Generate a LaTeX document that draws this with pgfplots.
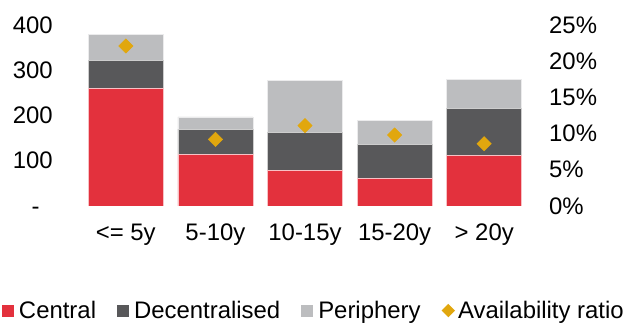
\documentclass[border=0pt]{standalone}
\usepackage{fontspec}
\setmainfont{Liberation Sans}
\usepackage{pgfplots}
\pgfplotsset{compat=1.18}
\usepackage{pgfplotstable}
\definecolor{cRed}{HTML}{E3313D}
\definecolor{cDark}{HTML}{58585A}
\definecolor{cLight}{HTML}{BCBDBF}
\definecolor{cGold}{HTML}{E1A70E}
\newcommand\chartfont{\fontsize{24}{28}\selectfont}

\pgfplotstableread{
x central decentral periphery ratio
0 260 62 58 22.1
1 114 56 27 9.2
2 78 84 115 11.1
3 61 76 53 9.8
4 112 104 64 8.6
}\datatable

\begin{document}
\begin{tikzpicture}
\path[use as bounding box] (0,0) rectangle (626bp,323bp);
\begin{axis}[
  at={(81bp,117bp)}, anchor=south west,
  scale only axis, width=448bp, height=181bp,
  ybar stacked, bar width=0.837,
  xmin=-0.5, xmax=4.5, ymin=0, ymax=400,
  xtick={0,1,2,3,4},
  xticklabels={{<= 5y},{5-10y},{10-15y},{15-20y},{> 20y}},
  ytick={0,100,200,300,400},
  yticklabels={{-\phantom{0}},100,200,300,400},
  axis line style={draw=none}, major tick length=0pt,
  tick label style={font=\chartfont, inner sep=0pt},
  yticklabel style={anchor=east, xshift=-28bp},
  xticklabel style={anchor=base, yshift=-34.5bp},
  legend columns=4,
  legend cell align=left,
  legend style={at={(0,0)}, anchor=south west, xshift=-79bp, yshift=-114bp,
    draw=none, fill=none, inner sep=0pt, outer sep=0pt, font=\chartfont,
    nodes={inner sep=0pt},
    /tikz/every even column/.append style={column sep=21bp}},
]
\addplot[fill=cRed, draw=white!70!cRed, line width=0.6bp,
  legend image code/.code={\fill[cRed,draw=none] (0bp,-6bp) rectangle (12bp,6bp); \path[draw=none,fill=none] (0bp,0bp) -- (17bp,0bp);}]
  table[x=x,y=central]{\datatable};
\addlegendentry{Central}
\addplot[fill=cDark, draw=white!70!cDark, line width=0.6bp,
  legend image code/.code={\fill[cDark,draw=none] (0bp,-6bp) rectangle (12bp,6bp); \path[draw=none,fill=none] (0bp,0bp) -- (17bp,0bp);}]
  table[x=x,y=decentral]{\datatable};
\addlegendentry{Decentralised}
\addplot[fill=cLight, draw=white!70!cLight, line width=0.6bp,
  legend image code/.code={\fill[cLight,draw=none] (0bp,-6bp) rectangle (12bp,6bp); \path[draw=none,fill=none] (0bp,0bp) -- (17bp,0bp);}]
  table[x=x,y=periphery]{\datatable};
\addlegendentry{Periphery}
\addlegendimage{legend image code/.code={\fill[cGold,draw=none] (0bp,0bp) -- (6.7bp,6.7bp) -- (13.4bp,0bp) -- (6.7bp,-6.7bp) -- cycle; \path[draw=none,fill=none] (0bp,0bp) -- (16.5bp,0bp);}}
\addlegendentry{Availability ratio}
\end{axis}
\begin{axis}[
  at={(81bp,117bp)}, anchor=south west,
  scale only axis, width=448bp, height=181bp,
  xmin=-0.5, xmax=4.5, ymin=0, ymax=25,
  hide x axis,
  axis line style={draw=none}, major tick length=0pt,
  yticklabel pos=right,
  ytick={0,5,10,15,20,25},
  yticklabels={0\%,5\%,10\%,15\%,20\%,25\%},
  tick label style={font=\chartfont, inner sep=0pt},
  yticklabel style={anchor=west, xshift=20bp},
]
\addplot[only marks, mark=square*, mark size=5.1bp,
  mark options={rotate=45, fill=cGold, draw=cGold}]
  table[x=x,y=ratio]{\datatable};
\end{axis}
\end{tikzpicture}
\end{document}
